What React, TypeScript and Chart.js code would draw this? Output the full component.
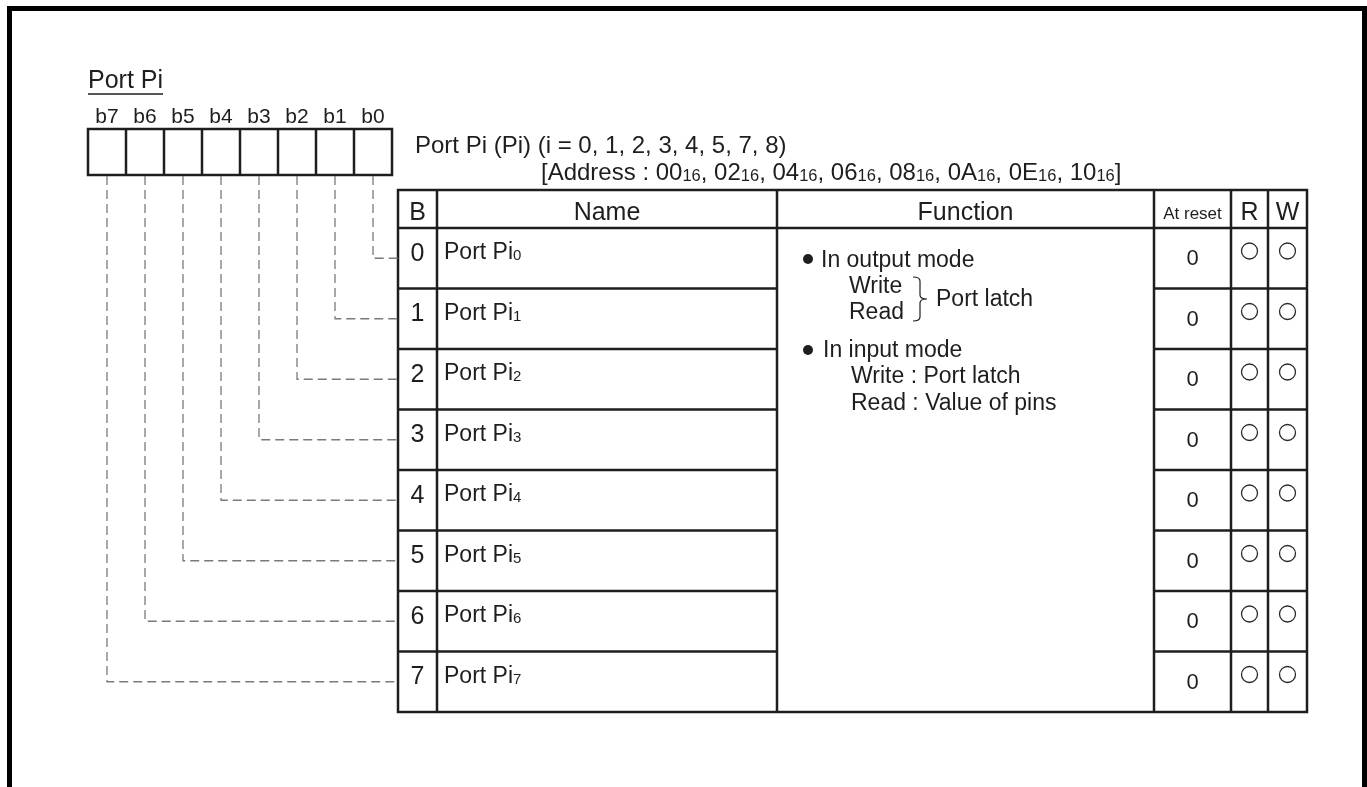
import React, { useEffect, useRef } from "react";
import { Chart, registerables } from "chart.js";

Chart.register(...registerables);

// ---------- data ----------
const titleText = "Port Pi";
const bitLabels = ["b7", "b6", "b5", "b4", "b3", "b2", "b1", "b0"];
const bitNumbers = [0, 1, 2, 3, 4, 5, 6, 7];
const bitNameBase = "Port Pi";
const resetValues = ["0", "0", "0", "0", "0", "0", "0", "0"];
const readable = [true, true, true, true, true, true, true, true];
const writable = [true, true, true, true, true, true, true, true];
const headers = ["B", "Name", "Function", "At reset", "R", "W"];
const portNumbers = ["0", "1", "2", "3", "4", "5", "7", "8"];
const addresses = ["00", "02", "04", "06", "08", "0A", "0E", "10"];
const addressRadix = "16";
const outputModeTitle = "In output mode";
const outputModeItems = ["Write", "Read"];
const outputModeTarget = "Port latch";
const inputModeTitle = "In input mode";
const inputModeItems = ["Write : Port latch", "Read : Value of pins"];

// ---------- layout (pixels in scale units) ----------
const W = 1367;
const H = 787;
const FONT = '"Liberation Sans", Arial, Helvetica, sans-serif';
const L = {
  bitLeft: 88,
  bitTop: 129,
  bitBottom: 175,
  bitW: 38,
  colEdges: [398, 437, 777, 1154, 1231, 1268, 1307],
  headTop: 190,
  headBottom: 228,
  rowH: 60.5,
};
const rowTop = (i: number) => L.headBottom + i * L.rowH;
const rowMid = (i: number) => rowTop(i) + L.rowH / 2;
// bit i (0 = b0) is the rightmost cell
const bitCenter = (i: number) => L.bitLeft + (7 - i) * L.bitW + L.bitW / 2;
const colCenter = (c: number) => (L.colEdges[c] + L.colEdges[c + 1]) / 2;

type Part = { t: string; sub?: boolean };

function drawRich(ctx: CanvasRenderingContext2D, parts: Part[], x: number, y: number, size: number, subSize: number) {
  let cx = x;
  for (const p of parts) {
    ctx.font = `${p.sub ? subSize : size}px ${FONT}`;
    ctx.fillText(p.t, cx, p.sub ? y + 1 : y);
    cx += ctx.measureText(p.t).width;
  }
}

const diagramPlugin = {
  id: "registerDiagram",
  beforeDraw(chart: any) {
    const ctx: CanvasRenderingContext2D = chart.ctx;
    ctx.save();
    ctx.fillStyle = "#ffffff";
    ctx.fillRect(0, 0, chart.width, chart.height);
    ctx.restore();
  },
  beforeDatasetsDraw(chart: any) {
    const ctx: CanvasRenderingContext2D = chart.ctx;
    const xs = chart.scales.x;
    const ys = chart.scales.y;
    const X = (v: number) => xs.getPixelForValue(v);
    const Y = (v: number) => ys.getPixelForValue(v);
    const line = (x1: number, y1: number, x2: number, y2: number) => {
      ctx.beginPath();
      ctx.moveTo(X(x1), Y(y1));
      ctx.lineTo(X(x2), Y(y2));
      ctx.stroke();
    };
    ctx.save();

    // outer frame
    ctx.fillStyle = "#000";
    ctx.fillRect(X(7), Y(6), X(W) - X(7), 5);
    ctx.fillRect(X(7), Y(6), 5, Y(H) - Y(6));
    ctx.fillRect(X(1362), Y(6), 5, Y(H) - Y(6));

    const ink = "#1e1e1e";
    ctx.fillStyle = ink;
    ctx.strokeStyle = ink;

    // title
    ctx.textBaseline = "alphabetic";
    ctx.textAlign = "left";
    ctx.font = `25px ${FONT}`;
    ctx.fillText(titleText, X(88), Y(88));
    const tw = ctx.measureText(titleText).width;
    ctx.lineWidth = 1.5;
    line(88, 94, 88 + tw, 94);

    // bit labels
    ctx.font = `21px ${FONT}`;
    ctx.textAlign = "center";
    bitLabels.forEach((lab, k) => {
      ctx.fillText(lab, X(L.bitLeft + k * L.bitW + L.bitW / 2), Y(123));
    });

    // bit boxes
    ctx.lineWidth = 2.5;
    ctx.strokeRect(X(L.bitLeft), Y(L.bitTop), X(L.bitLeft + 8 * L.bitW) - X(L.bitLeft), Y(L.bitBottom) - Y(L.bitTop));
    for (let k = 1; k < 8; k++) line(L.bitLeft + k * L.bitW, L.bitTop, L.bitLeft + k * L.bitW, L.bitBottom);

    // register title and address
    ctx.textAlign = "left";
    ctx.font = `24px ${FONT}`;
    ctx.fillText(`Port Pi (Pi) (i = ${portNumbers.join(", ")})`, X(415), Y(153));
    const addrParts: Part[] = [{ t: "[Address : " }];
    addresses.forEach((a, k) => {
      addrParts.push({ t: a });
      addrParts.push({ t: addressRadix, sub: true });
      addrParts.push({ t: k < addresses.length - 1 ? ", " : "]" });
    });
    drawRich(ctx, addrParts, X(541), Y(180), 24, 16.5);

    // table grid
    const E = L.colEdges;
    const tBottom = rowTop(bitNumbers.length);
    ctx.lineWidth = 2.5;
    ctx.strokeRect(X(E[0]), Y(L.headTop), X(E[6]) - X(E[0]), Y(tBottom) - Y(L.headTop));
    for (let c = 1; c < 6; c++) line(E[c], L.headTop, E[c], tBottom);
    line(E[0], L.headBottom, E[6], L.headBottom);
    for (let i = 1; i < bitNumbers.length; i++) {
      line(E[0], rowTop(i), E[2], rowTop(i));
      line(E[3], rowTop(i), E[6], rowTop(i));
    }

    // headers
    ctx.textAlign = "center";
    headers.forEach((h, c) => {
      ctx.font = h === "At reset" ? `17px ${FONT}` : `25px ${FONT}`;
      ctx.fillText(h, X(colCenter(c)), Y(h === "At reset" ? 218.5 : 220));
    });

    // rows
    bitNumbers.forEach((b, i) => {
      const top = rowTop(i);
      ctx.textAlign = "center";
      ctx.textBaseline = "middle";
      ctx.font = `25px ${FONT}`;
      ctx.fillText(String(b), X(colCenter(0)), Y(top + 26));
      ctx.font = `22px ${FONT}`;
      ctx.fillText(resetValues[i], X(colCenter(3)), Y(top + 31));
      ctx.textAlign = "left";
      ctx.textBaseline = "alphabetic";
      drawRich(ctx, [{ t: bitNameBase }, { t: String(b), sub: true }], X(444), Y(top + 31), 23, 15);
    });

    // function text
    ctx.textAlign = "left";
    ctx.textBaseline = "alphabetic";
    ctx.font = `23px ${FONT}`;
    ctx.beginPath();
    ctx.arc(X(808), Y(259), 5, 0, Math.PI * 2);
    ctx.fill();
    ctx.fillText(outputModeTitle, X(821), Y(267));
    ctx.fillText(outputModeItems[0], X(849), Y(293));
    ctx.fillText(outputModeItems[1], X(849), Y(319));
    ctx.fillText(outputModeTarget, X(936), Y(306));
    // brace
    ctx.lineWidth = 1.2;
    const bx = 913, by0 = 277, by1 = 321, bm = 299, bw = 14, r = 4;
    ctx.beginPath();
    ctx.moveTo(X(bx), Y(by0));
    ctx.quadraticCurveTo(X(bx + bw / 2), Y(by0), X(bx + bw / 2), Y(by0 + r));
    ctx.lineTo(X(bx + bw / 2), Y(bm - r));
    ctx.quadraticCurveTo(X(bx + bw / 2), Y(bm), X(bx + bw), Y(bm));
    ctx.quadraticCurveTo(X(bx + bw / 2), Y(bm), X(bx + bw / 2), Y(bm + r));
    ctx.lineTo(X(bx + bw / 2), Y(by1 - r));
    ctx.quadraticCurveTo(X(bx + bw / 2), Y(by1), X(bx), Y(by1));
    ctx.stroke();

    ctx.beginPath();
    ctx.arc(X(808), Y(350), 5, 0, Math.PI * 2);
    ctx.fill();
    ctx.fillText(inputModeTitle, X(823), Y(357));
    ctx.fillText(inputModeItems[0], X(851), Y(383));
    ctx.fillText(inputModeItems[1], X(851), Y(410));

    ctx.restore();
  },
};

export default function App() {
  const ref = useRef<HTMLCanvasElement | null>(null);
  useEffect(() => {
    document.body.style.margin = "0";
    if (!ref.current) return;
    const connectors = bitNumbers.map((b) => ({
      type: "scatter" as const,
      label: `b${b}`,
      data: [
        { x: bitCenter(b), y: L.bitBottom + 1 },
        { x: bitCenter(b), y: rowMid(b) },
        { x: L.colEdges[0], y: rowMid(b) },
      ],
      showLine: true,
      borderColor: "#7a7a7a",
      borderWidth: 1.3,
      borderDash: [9, 5],
      pointRadius: 0,
      fill: false,
    }));
    const rPoints = bitNumbers
      .filter((_, i) => readable[i])
      .map((b) => ({ x: colCenter(4), y: rowTop(b) + 23 }));
    const wPoints = bitNumbers
      .filter((_, i) => writable[i])
      .map((b) => ({ x: colCenter(5), y: rowTop(b) + 23 }));
    const circleStyle = {
      type: "scatter" as const,
      showLine: false,
      pointStyle: "circle",
      pointRadius: 8,
      pointBackgroundColor: "#ffffff",
      pointBorderColor: "#2a2a2a",
      pointBorderWidth: 1.3,
    };
    const chart = new Chart(ref.current, {
      type: "scatter",
      data: {
        datasets: [
          ...connectors,
          { ...circleStyle, label: "R", data: rPoints },
          { ...circleStyle, label: "W", data: wPoints },
        ] as any,
      },
      options: {
        animation: false,
        responsive: false,
        maintainAspectRatio: false,
        layout: { padding: 0, autoPadding: false },
        plugins: { legend: { display: false }, tooltip: { enabled: false }, title: { display: false } },
        events: [],
        scales: {
          x: { type: "linear", min: 0, max: W, display: false },
          y: { type: "linear", min: 0, max: H, reverse: true, display: false },
        },
      },
      plugins: [diagramPlugin],
    });
    return () => chart.destroy();
  }, []);
  return (
    <div style={{ position: "absolute", left: 0, top: 0, width: W, height: H }}>
      <canvas ref={ref} width={W} height={H} style={{ width: W, height: H, display: "block" }} />
    </div>
  );
}
